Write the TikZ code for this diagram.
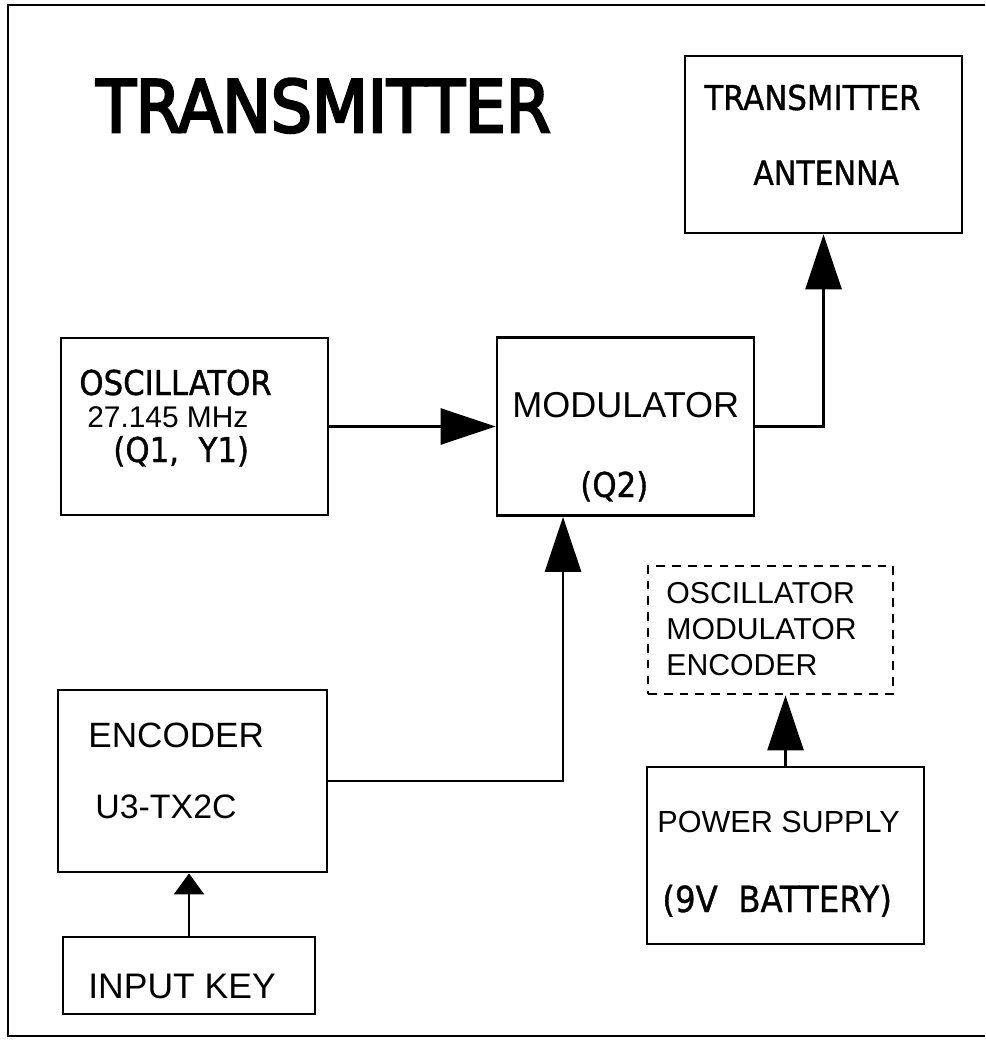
\documentclass[tikz,border=0pt]{standalone}
\usepackage{fontspec}
\setmainfont{Liberation Sans}
\newfontfamily\isofont[FakeBold=1]{DejaVu Sans Condensed}
\newfontfamily\titlefont[FakeBold=3.5]{DejaVu Sans Condensed}
\usetikzlibrary{arrows.meta}

\tikzset{
  block/.style={draw, line width=1.6pt, inner sep=0pt},
  txt/.style={inner sep=0pt, anchor=base west},
  iso/.style={txt, font=\isofont\fontsize{#1}{#1}\selectfont},
  ari/.style={txt, font=\fontsize{#1}{#1}\selectfont},
  big/.style={line width=1.6pt, -{Triangle[length=1.1cm, width=0.72cm]}},
  small/.style={line width=1.1pt, -{Triangle[length=0.42cm, width=0.6cm]}}
}

\begin{document}
\begin{tikzpicture}[x=0.02cm, y=-0.02cm]
  \useasboundingbox (0,0) rectangle (985,1043);
  \draw[line width=1.6pt] (985,5) -- (8,5) -- (8,1036) -- (985,1036);

  \node[txt, font=\titlefont\fontsize{41}{41}\selectfont] (title) at (96,132) {TRANSMITTER};

  % blocks
  \node[block, minimum width=5.54cm, minimum height=3.54cm] (ant)  at (823.5,144.5) {};
  \node[block, minimum width=5.34cm, minimum height=3.54cm] (osc)  at (194.5,426.5) {};
  \node[block, minimum width=5.14cm, minimum height=3.56cm] (mod)  at (625.5,426.5) {};
  \node[block, dash pattern=on 5pt off 4pt, minimum width=4.9cm, minimum height=2.56cm] (dash) at (770.5,630) {};
  \node[block, minimum width=5.54cm, minimum height=3.54cm] (ps)   at (785.5,855.5) {};
  \node[block, minimum width=5.38cm, minimum height=3.64cm] (enc)  at (192.5,781) {};
  \node[block, line width=1.1pt, minimum width=5.04cm, minimum height=1.54cm] (key) at (189,975.5) {};

  % texts
  \node[iso=19.5] (antA) at (704,110) {TRANSMITTER};
  \node[iso=19]   (antB) at (753,185) {ANTENNA};
  \node[iso=19.5] (oscA) at (79,395)  {OSCILLATOR};
  \node[ari=17]   (oscB) at (87,427)  {27.145 MHz};
  \node[iso=19.5] (oscC) at (113,462) {(Q1,\ \ Y1)};
  \node[ari=20.5] (modA) at (512,417) {MODULATOR};
  \node[iso=19.5] (modB) at (580,497) {(Q2)};
  \node[ari=17.2] (dashA) at (666,603) {OSCILLATOR};
  \node[ari=17.2] (dashB) at (666,639) {MODULATOR};
  \node[ari=17.2] (dashC) at (666,675) {ENCODER};
  \node[ari=17.4] (psA) at (657,832) {POWER SUPPLY};
  \node[iso=20.5] (psB) at (662,912) {(9V\ \ BATTERY)};
  \node[ari=20]   (encA) at (88,747) {ENCODER};
  \node[ari=19.3] (encB) at (95,818) {U3-TX2C};
  \node[ari=20.2] (keyA) at (88,998) {INPUT KEY};

  % connectors
  \draw[big] (osc) -- (mod);
  \draw[big] (mod) -| (ant);
  \draw[big] (enc) -| ([xshift=-1.25cm]mod.south);
  \draw[big] (ps.north) -- (ps.north |- dash.south);
  \draw[small] (key.north) -- (key.north |- enc.south);
\end{tikzpicture}
\end{document}
